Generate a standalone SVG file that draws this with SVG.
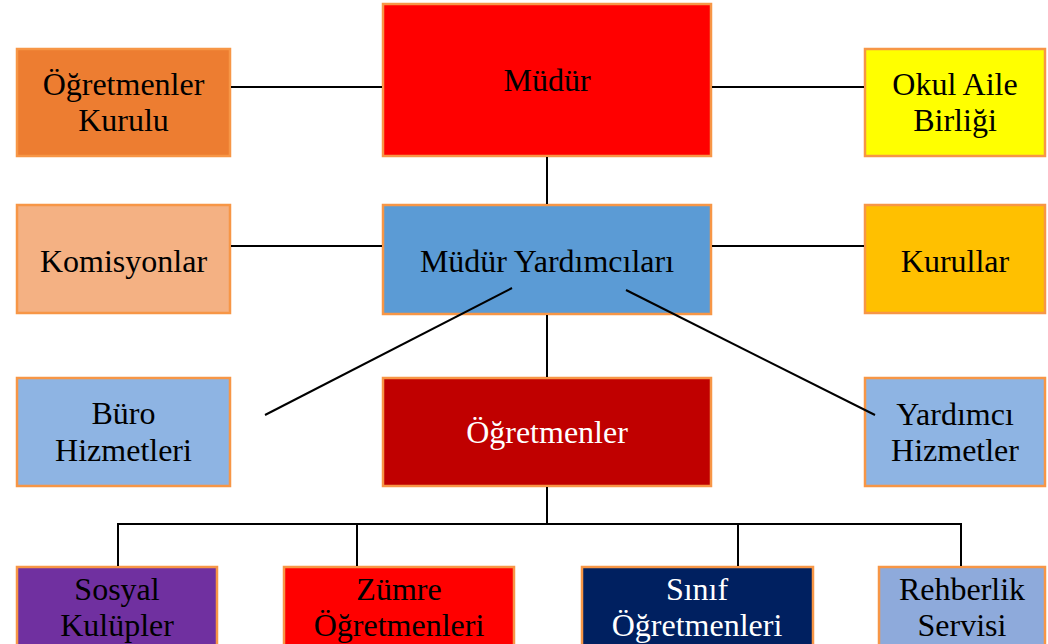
<svg xmlns="http://www.w3.org/2000/svg" width="1048" height="644" viewBox="0 0 1048 644">
<style>
.b{stroke:#F79646;stroke-width:2.5}
.t{font-family:"Liberation Serif","Times New Roman",serif;font-size:32px;fill:#000;text-anchor:middle}
.w{fill:#fff}
.c{stroke:#000;stroke-width:2;fill:none}
</style>
<rect width="1048" height="644" fill="#fff"/>
<g id="ogretmenler-kurulu"><rect class="b" x="17" y="49" width="213" height="107" fill="#ED7D31"/><text class="t" x="123.5" y="95">Öğretmenler</text><text class="t" x="123.5" y="131">Kurulu</text></g>
<g id="mudur"><rect class="b" x="383" y="4" width="328" height="152" fill="#FF0000"/><text class="t" x="547" y="91">Müdür</text></g>
<g id="okul-aile-birligi"><rect class="b" x="865" y="49" width="180" height="107" fill="#FFFF00"/><text class="t" x="955" y="95">Okul Aile</text><text class="t" x="955" y="131">Birliği</text></g>
<g id="komisyonlar"><rect class="b" x="17" y="205" width="213" height="108" fill="#F4B183"/><text class="t" x="123.5" y="272">Komisyonlar</text></g>
<g id="mudur-yardimcilari"><rect class="b" x="383" y="205" width="328" height="109" fill="#5B9BD5"/><text class="t" x="547" y="272">Müdür Yardımcıları</text></g>
<g id="kurullar"><rect class="b" x="865" y="205" width="180" height="108" fill="#FFC000"/><text class="t" x="955" y="272">Kurullar</text></g>
<g id="buro-hizmetleri"><rect class="b" x="17" y="378" width="213" height="108" fill="#8EB4E3"/><text class="t" x="123.5" y="424">Büro</text><text class="t" x="123.5" y="461">Hizmetleri</text></g>
<g id="ogretmenler"><rect class="b" x="383" y="378" width="328" height="108" fill="#C00000"/><text class="t w" x="547" y="443">Öğretmenler</text></g>
<g id="yardimci-hizmetler"><rect class="b" x="865" y="378" width="180" height="108" fill="#8EB4E3"/><text class="t" x="955" y="425">Yardımcı</text><text class="t" x="955" y="461">Hizmetler</text></g>
<g id="sosyal-kulupler"><rect class="b" x="17" y="567" width="200" height="90" fill="#7030A0"/><text class="t" x="117" y="600">Sosyal</text><text class="t" x="117" y="636">Kulüpler</text></g>
<g id="zumre-ogretmenleri"><rect class="b" x="284" y="567" width="230" height="90" fill="#FF0000"/><text class="t" x="399" y="600">Zümre</text><text class="t" x="399" y="636">Öğretmenleri</text></g>
<g id="sinif-ogretmenleri"><rect class="b" x="582" y="567" width="231" height="90" fill="#002060"/><text class="t w" x="697" y="600">Sınıf</text><text class="t w" x="697" y="636">Öğretmenleri</text></g>
<g id="rehberlik-servisi"><rect class="b" x="879" y="567" width="166" height="90" fill="#8EAADB"/><text class="t" x="962" y="600">Rehberlik</text><text class="t" x="962" y="636">Servisi</text></g>
<g id="connectors">
<line class="c" x1="231" y1="87" x2="382" y2="87"/>
<line class="c" x1="712" y1="87" x2="864" y2="87"/>
<line class="c" x1="547" y1="157" x2="547" y2="204"/>
<line class="c" x1="231" y1="246" x2="382" y2="246"/>
<line class="c" x1="712" y1="246" x2="864" y2="246"/>
<line class="c" x1="547" y1="315" x2="547" y2="377"/>
<line class="c" x1="512" y1="288" x2="265" y2="415"/>
<line class="c" x1="626" y1="290" x2="875" y2="415"/>
<line class="c" x1="547" y1="487" x2="547" y2="524"/>
<polyline class="c" points="118,566 118,524 961,524 961,566"/>
<line class="c" x1="357" y1="524" x2="357" y2="566"/>
<line class="c" x1="738" y1="524" x2="738" y2="566"/>
</g>
</svg>
